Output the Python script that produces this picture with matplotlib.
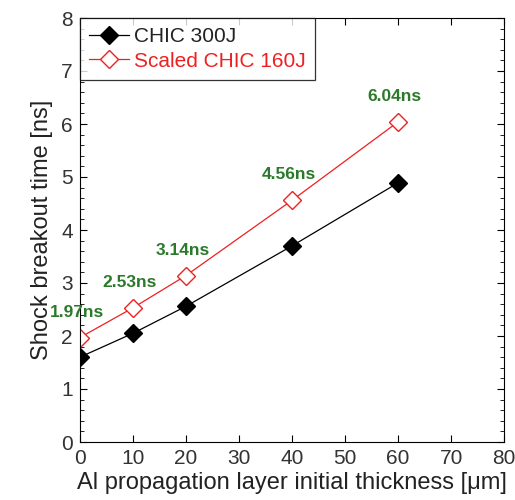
import matplotlib
matplotlib.use('Agg')
import matplotlib.pyplot as plt
from matplotlib.ticker import MultipleLocator

plt.rcParams['font.family'] = ['Liberation Sans', 'DejaVu Sans']

thickness = [0, 10, 20, 40, 60]
chic_300 = [1.60, 2.05, 2.56, 3.70, 4.89]
scaled_160 = [1.97, 2.53, 3.14, 4.56, 6.04]
labels = ['1.97ns', '2.53ns', '3.14ns', '4.56ns', '6.04ns']

fig = plt.figure(figsize=(5.15, 5.0), dpi=100)
ax = fig.add_axes([0.155, 0.116, 0.824, 0.848])

ax.plot(thickness, chic_300, color='black', lw=0.9, marker='D', ms=9,
        mfc='black', mec='black', label='CHIC 300J')
ax.plot(thickness, scaled_160, color='#ee2020', lw=0.9, marker='D', ms=9,
        mfc='white', mec='#ee2020', label='Scaled CHIC 160J')

for x, y, t in zip(thickness, scaled_160, labels):
    ax.text(x - 0.6, y + 0.48, t, color='#2b7a2b', fontsize=12.5,
            fontweight='bold', ha='center', va='center')

ax.set_xlim(0, 80)
ax.set_ylim(0, 8)
ax.xaxis.set_major_locator(MultipleLocator(10))
ax.yaxis.set_major_locator(MultipleLocator(1))
ax.yaxis.set_minor_locator(MultipleLocator(0.2))
ax.tick_params(which='both', direction='in', top=True, right=True,
               labelsize=15, labelcolor='#333333')
ax.tick_params(which='major', length=5, pad=5)
ax.tick_params(which='minor', length=3)

ax.set_xlabel('Al propagation layer initial thickness [μm]', fontsize=17, color='#222222', labelpad=3)
ax.set_ylabel('Shock breakout time [ns]', fontsize=17, color='#222222', labelpad=6)

leg = ax.legend(loc='upper left', fontsize=15, frameon=True, fancybox=False,
                borderaxespad=0, handlelength=1.9, handletextpad=0.25,
                borderpad=0.45, labelspacing=0.25)
leg.get_frame().set_edgecolor('black')
leg.get_frame().set_linewidth(0.9)
for txt, c in zip(leg.get_texts(), ['#222222', '#ee2020']):
    txt.set_color(c)

fig.savefig('out.png', dpi=100)
